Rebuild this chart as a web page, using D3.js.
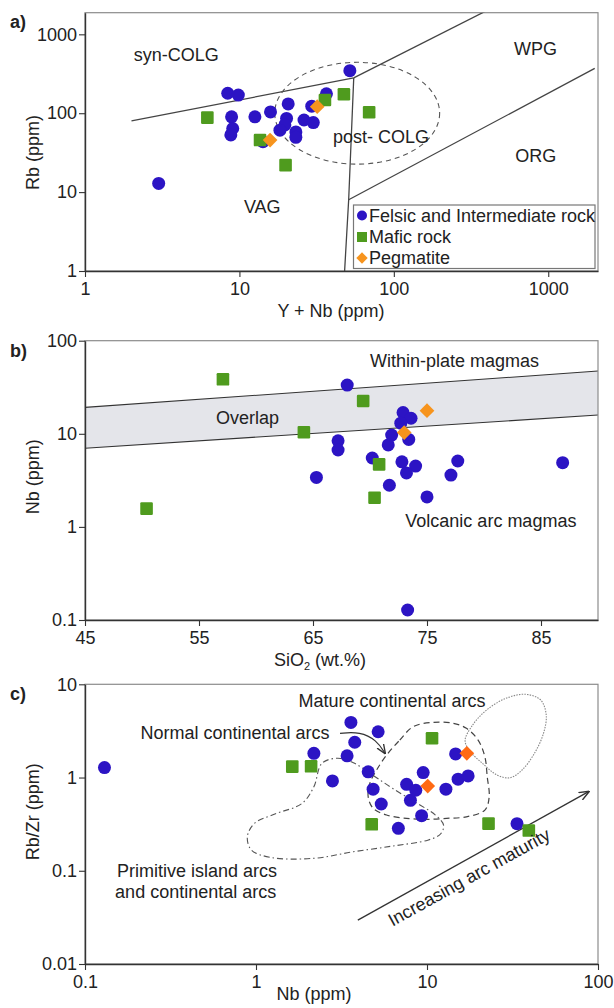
<!DOCTYPE html>
<html>
<head>
<meta charset="utf-8">
<script src="https://cdn.jsdelivr.net/npm/d3@7"></script>
<style>
  body { margin: 0; background: #fff; }
  text { font-family: "Liberation Sans", Arial, sans-serif; fill: #222; }
</style>
</head>
<body>
<div id="chart"></div>
<script>
// ---- data: panel a (Y+Nb vs Rb) ----
var felsicA = [[51.9,346],[8.4,179],[9.84,170],[8.9,90],[9.05,64],[8.8,53],[12.6,90],[15.9,104],
  [20.7,131],[20.2,86],[19.7,71],[18.3,61],[23.2,58],[23.2,49.5],[26.2,82],[30.1,76],[29.4,123],
  [36.6,176],[14.2,43.5],[3.0,12.9]];
var maficA = [[6.2,88],[13.6,45.7],[19.9,22],[35.8,147],[47.5,174],[69.2,103]];
var pegA = [[15.8,45.7],[31.9,121]];
var synVagLine = [[2,80],[55,280]];
var vagWpgLine = [[55,280],[51,8],[48,1]];
var wpgSynLine = [[55,280],[400,2000]];
var wpgOrgLine = [[51,8],[2000,370]];
var postColg = {cx: 57.9, cy: 100, x1: 198, y1: 442};
var labelsA = [
  {t: "syn-COLG", x: 2.07, y: 459},
  {t: "WPG", x: 600, y: 547},
  {t: "ORG", x: 611, y: 24.3},
  {t: "VAG", x: 10.7, y: 5.39},
  {t: "post- COLG", x: 40.3, y: 42.3}
];

// ---- data: panel b (SiO2 vs Nb) ----
var felsicB = [[68.0,33.4],[72.9,16.9],[73.6,14.7],[72.7,13.0],[71.9,9.7],[73.4,8.7],[71.6,7.6],
  [67.2,8.4],[67.2,6.7],[70.2,5.5],[72.8,5.0],[74.0,4.5],[73.2,3.8],[77.7,5.1],[77.1,3.6],
  [65.3,3.4],[71.7,2.8],[75.0,2.1],[86.9,4.9],[73.3,0.128]];
var maficB = [[57.1,38.5],[69.4,22.5],[64.2,10.4],[70.8,4.7],[70.4,2.06],[50.4,1.57]];
var pegB = [[75.0,17.7],[73.0,10.3]];
var overlapSiO2 = [45, 90];
var overlapUpper = [19.2, 47.2];
var overlapLower = [7.0, 15.9];
var labelsB = [
  {t: "Within-plate magmas", x: 70.0, y: 51.8},
  {t: "Overlap", x: 56.5, y: 12.7},
  {t: "Volcanic arc magmas", x: 73.1, y: 0.99}
];

// ---- data: panel c (Nb vs Rb/Zr) ----
var felsicC = [[0.13,1.28],[2.18,1.82],[2.8,0.92],[3.41,1.71],[3.59,3.9],[3.78,2.39],[5.18,3.1],
  [4.53,1.15],[4.84,0.75],[5.4,0.52],[6.8,0.285],[7.6,0.845],[8.0,0.57],[8.6,0.73],[9.5,1.13],
  [9.3,0.39],[12.9,0.75],[14.7,1.79],[15.2,0.96],[17.4,1.04],[33.6,0.32]];
var maficC = [[1.63,1.31],[2.1,1.32],[10.7,2.64],[4.75,0.315],[22.9,0.32],[39.4,0.27]];
var pegC = [[10.1,0.81],[17.1,1.82]];
var normalArcs = [[5.8,1.74],[6.93,2.52],[8.3,3.51],[10.9,3.91],[14.2,3.82],[17.0,3.37],[19.9,2.52],
  [21.8,1.67],[22.5,1.02],[23.1,0.62],[21.8,0.448],[17.0,0.379],[13.0,0.365],[9.93,0.356],
  [7.59,0.365],[5.8,0.396],[4.84,0.468],[4.53,0.62],[4.63,0.867],[5.07,1.2]];
var primitiveArcs = [[2.43,1.42],[3.0,1.61],[3.71,1.44],[4.82,1.06],[6.28,0.766],[8.63,0.537],
  [11.2,0.396],[12.5,0.309],[12.0,0.248],[10.1,0.213],[6.28,0.184],[3.71,0.16],[2.18,0.136],
  [1.22,0.139],[0.94,0.167],[0.89,0.232],[0.98,0.323],[1.29,0.406],[1.86,0.528],[2.18,0.797]];
var matureArcs = [[16.7,2.52],[18.5,3.66],[22.3,5.3],[29.0,7.08],[37.8,7.81],[46.2,6.79],[49.8,4.69],
  [48.0,2.98],[42.5,1.82],[35.9,1.2],[30.6,0.995],[25.8,1.06],[21.1,1.42],[17.6,1.97]];
var normalArrow = [[3.10,2.98],[4.05,3.10],[5.07,2.52],[5.68,1.82]];
var maturityArrow = [[3.94,0.0296],[88.1,0.705]];
var labelsC = [
  {t: "Mature continental arcs", x: 1.77, y: 5.75},
  {t: "Normal continental arcs", x: 0.211, y: 2.57},
  {t: "Primitive island arcs", x: 0.154, y: 0.0863},
  {t: "and continental arcs", x: 0.150, y: 0.0506}
];

var blue = "#2c14c4", green = "#4f9b1e", orange = "#f7941d", orangeC = "#ff6a14";

var W = 614, H = 1008, left = 85, right = 598;

var svg = d3.select("#chart").append("svg")
  .attr("width", W)
  .attr("height", H);

var defs = svg.append("defs");
defs.append("marker")
  .attr("id", "arrow")
  .attr("viewBox", "0 0 10 10")
  .attr("refX", 9).attr("refY", 5)
  .attr("markerWidth", 8).attr("markerHeight", 8)
  .attr("orient", "auto")
  .append("path")
  .attr("d", "M0,1 L10,5 L0,9")
  .attr("fill", "none")
  .attr("stroke", "#333")
  .attr("stroke-width", 1.4);

// scales
var xA = d3.scaleLog().domain([1, 2100]).range([left, right]);
var yA = d3.scaleLog().domain([1, 1880]).range([271, 12.7]);
var xB = d3.scaleLinear().domain([45, 90]).range([left, right]);
var yB = d3.scaleLog().domain([0.1, 100]).range([620, 340.7]);
var xC = d3.scaleLog().domain([0.1, 100]).range([left, right]);
var yC = d3.scaleLog().domain([0.01, 10]).range([964, 684.3]);

function clipFor(id, x, y) {
  defs.append("clipPath").attr("id", id)
    .append("rect")
    .attr("x", x.range()[0]).attr("y", y.range()[1])
    .attr("width", x.range()[1] - x.range()[0])
    .attr("height", y.range()[0] - y.range()[1]);
  return svg.append("g").attr("clip-path", `url(#${id})`);
}

function drawAxes(x, y, xTicks, yTicks) {
  var x0 = x.range()[0], x1 = x.range()[1], y0 = y.range()[0], y1 = y.range()[1];
  svg.append("rect")
    .attr("x", x0).attr("y", y1)
    .attr("width", x1 - x0).attr("height", y0 - y1)
    .attr("fill", "none")
    .attr("stroke", "#8c8c8c")
    .attr("stroke-width", 1.2);

  var gx = svg.append("g")
    .attr("transform", `translate(0, ${y0})`)
    .call(d3.axisBottom(x).tickValues(xTicks).tickFormat(d3.format("~g"))
      .tickSize(6).tickSizeOuter(0).tickPadding(5));
  var gy = svg.append("g")
    .attr("transform", `translate(${x0}, 0)`)
    .call(d3.axisLeft(y).tickValues(yTicks).tickFormat(d3.format("~g"))
      .tickSize(6).tickSizeOuter(0).tickPadding(2));
  [gx, gy].forEach(function(g) {
    g.select(".domain").attr("stroke", "#333").attr("stroke-width", 1.4);
    g.selectAll(".tick line").attr("stroke", "#333").attr("stroke-width", 1.1);
    g.selectAll(".tick text").attr("font-size", 18).attr("fill", "#222")
      .style("font-family", "'Liberation Sans', Arial, sans-serif");
  });
}

function drawPoints(g, x, y, felsic, mafic, peg, pegColor) {
  g.selectAll(null).data(felsic).enter().append("circle")
    .attr("cx", function(d) { return x(d[0]); })
    .attr("cy", function(d) { return y(d[1]); })
    .attr("r", 6.5)
    .attr("fill", blue);
  g.selectAll(null).data(mafic).enter().append("rect")
    .attr("x", function(d) { return x(d[0]) - 6.3; })
    .attr("y", function(d) { return y(d[1]) - 6.3; })
    .attr("width", 12.6).attr("height", 12.6)
    .attr("rx", 1.2)
    .attr("fill", green);
  g.selectAll(null).data(peg).enter().append("path")
    .attr("d", d3.symbol().type(d3.symbolSquare).size(108))
    .attr("transform", function(d) { return `translate(${x(d[0])}, ${y(d[1])}) rotate(45)`; })
    .attr("fill", pegColor);
}

function drawLabels(x, y, labels) {
  svg.selectAll(null).data(labels).enter().append("text")
    .attr("x", function(d) { return x(d.x); })
    .attr("y", function(d) { return y(d.y); })
    .attr("font-size", 18)
    .text(function(d) { return d.t; });
}

var lineA = d3.line().x(function(d) { return xA(d[0]); }).y(function(d) { return yA(d[1]); });
var lineB = d3.line().x(function(d) { return xB(d[0]); }).y(function(d) { return yB(d[1]); });
var lineC = d3.line().x(function(d) { return xC(d[0]); }).y(function(d) { return yC(d[1]); });

// ================= panel a =================
drawAxes(xA, yA, [1, 10, 100, 1000], [1, 10, 100, 1000]);
var gA = clipFor("clipA", xA, yA);

[synVagLine, vagWpgLine, wpgSynLine, wpgOrgLine].forEach(function(l) {
  gA.append("path")
    .attr("d", lineA(l))
    .attr("fill", "none")
    .attr("stroke", "#444")
    .attr("stroke-width", 1.3);
});

gA.append("ellipse")
  .attr("cx", xA(postColg.cx))
  .attr("cy", yA(postColg.cy))
  .attr("rx", xA(postColg.x1) - xA(postColg.cx))
  .attr("ry", yA(postColg.cy) - yA(postColg.y1))
  .attr("fill", "none")
  .attr("stroke", "#555")
  .attr("stroke-width", 1.1)
  .attr("stroke-dasharray", "5,4");

drawLabels(xA, yA, labelsA);
drawPoints(gA, xA, yA, felsicA, maficA, pegA, orange);

// legend
var legend = svg.append("g");
legend.append("rect")
  .attr("x", 353.5).attr("y", 205)
  .attr("width", 241.5).attr("height", 63.5)
  .attr("fill", "#fff")
  .attr("stroke", "#777")
  .attr("stroke-width", 1.2);
legend.append("circle").attr("cx", 362).attr("cy", 215.5).attr("r", 5).attr("fill", blue);
legend.append("rect").attr("x", 357).attr("y", 232).attr("width", 10).attr("height", 10).attr("fill", green);
legend.append("path")
  .attr("d", d3.symbol().type(d3.symbolSquare).size(64))
  .attr("transform", "translate(362, 258) rotate(45)")
  .attr("fill", orange);
legend.selectAll(null)
  .data(["Felsic and Intermediate rock", "Mafic rock", "Pegmatite"])
  .enter().append("text")
  .attr("x", 369)
  .attr("y", function(d, i) { return 221.7 + i * 21.2; })
  .attr("font-size", 18)
  .text(function(d) { return d; });

// ================= panel b =================
var gB = clipFor("clipB", xB, yB);
var band = overlapSiO2.map(function(s, i) { return [s, overlapUpper[i]]; })
  .concat(overlapSiO2.map(function(s, i) { return [s, overlapLower[i]]; }).reverse());
gB.append("path")
  .attr("d", lineB(band) + "Z")
  .attr("fill", "#e4e5ea");
[overlapUpper, overlapLower].forEach(function(arr) {
  gB.append("path")
    .attr("d", lineB(overlapSiO2.map(function(s, i) { return [s, arr[i]]; })))
    .attr("fill", "none")
    .attr("stroke", "#333")
    .attr("stroke-width", 1.1);
});
drawAxes(xB, yB, [45, 55, 65, 75, 85], [0.1, 1, 10, 100]);
drawLabels(xB, yB, labelsB);
drawPoints(gB, xB, yB, felsicB, maficB, pegB, orange);

// ================= panel c =================
drawAxes(xC, yC, [0.1, 1, 10, 100], [0.01, 0.1, 1, 10]);
var gC = clipFor("clipC", xC, yC);
var loop = d3.line().curve(d3.curveCatmullRomClosed.alpha(0.5))
  .x(function(d) { return xC(d[0]); }).y(function(d) { return yC(d[1]); });

gC.append("path").attr("d", loop(primitiveArcs))
  .attr("fill", "none").attr("stroke", "#555").attr("stroke-width", 1.1)
  .attr("stroke-dasharray", "6,3,1.5,3");
gC.append("path").attr("d", loop(normalArcs))
  .attr("fill", "none").attr("stroke", "#444").attr("stroke-width", 1.2)
  .attr("stroke-dasharray", "6,4");
gC.append("path").attr("d", loop(matureArcs))
  .attr("fill", "none").attr("stroke", "#888").attr("stroke-width", 1.1)
  .attr("stroke-dasharray", "1.5,1.2");

gC.append("path")
  .attr("d", d3.line().curve(d3.curveBasis)
    .x(function(d) { return xC(d[0]); }).y(function(d) { return yC(d[1]); })(normalArrow))
  .attr("fill", "none").attr("stroke", "#333").attr("stroke-width", 1.2)
  .attr("marker-end", "url(#arrow)");

gC.append("path")
  .attr("d", lineC(maturityArrow))
  .attr("fill", "none").attr("stroke", "#333").attr("stroke-width", 1.3)
  .attr("marker-end", "url(#arrow)");

drawLabels(xC, yC, labelsC);
svg.append("text")
  .attr("transform", `translate(${xC(6.28)}, ${yC(0.0251)}) rotate(-29)`)
  .attr("font-size", 18)
  .text("Increasing arc maturity");

drawPoints(gC, xC, yC, felsicC, maficC, pegC, orangeC);

// ================= titles =================
var titles = svg.append("g").attr("font-size", 18);
titles.append("text").attr("x", 331).attr("y", 317).attr("text-anchor", "middle").text("Y + Nb (ppm)");
titles.append("text").attr("transform", "translate(39, 152.5) rotate(-90)").attr("text-anchor", "middle").text("Rb (ppm)");
titles.append("text").attr("transform", "translate(39, 476.7) rotate(-90)").attr("text-anchor", "middle").text("Nb (ppm)");
var sio2 = titles.append("text").attr("x", 320).attr("y", 666).attr("text-anchor", "middle");
sio2.append("tspan").text("SiO");
sio2.append("tspan").attr("font-size", 11).attr("dy", 4).text("2");
sio2.append("tspan").attr("dy", -4).text(" (wt.%)");
titles.append("text").attr("transform", "translate(39, 811.7) rotate(-90)").attr("text-anchor", "middle").text("Rb/Zr (ppm)");
titles.append("text").attr("x", 314).attr("y", 1000).attr("text-anchor", "middle").text("Nb (ppm)");

svg.selectAll(null).data([["a)", 28], ["b)", 356.7], ["c)", 700]]).enter().append("text")
  .attr("x", 10).attr("y", function(d) { return d[1]; })
  .attr("font-size", 18).attr("font-weight", "bold")
  .text(function(d) { return d[0]; });
</script>
</body>
</html>
